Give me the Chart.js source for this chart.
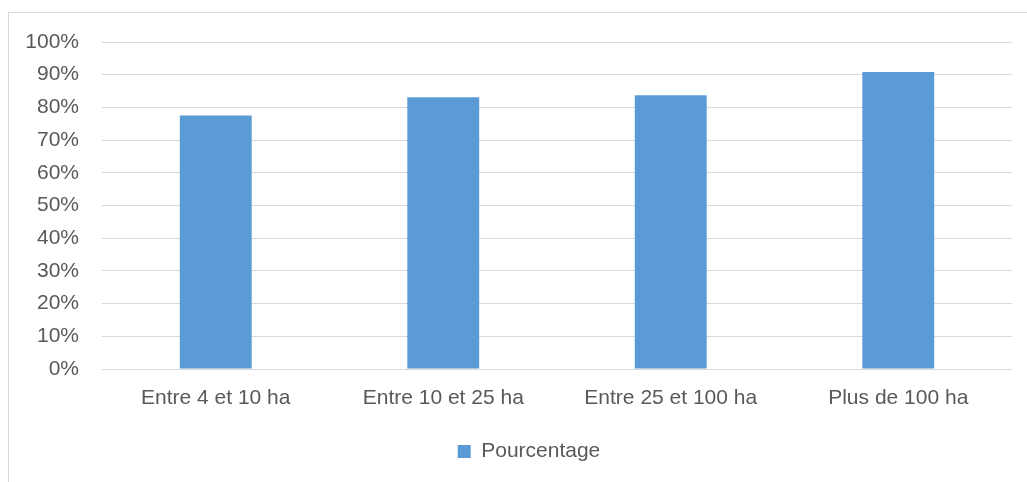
<!DOCTYPE html>
<html>
<head>
<meta charset="utf-8">
<script src="https://cdn.jsdelivr.net/npm/chart.js@4"></script>
<style>
  html, body { margin: 0; padding: 0; background: #fff; }
  #wrap { width: 1027px; height: 482px; position: relative; }
</style>
</head>
<body>
<div id="wrap"><canvas id="chart1"></canvas></div>
<script>
const categories = ["Entre 4 et 10 ha", "Entre 10 et 25 ha", "Entre 25 et 100 ha", "Plus de 100 ha"];
const pourcentage = [77.5, 83.1, 83.7, 90.8];

// outer frame of the chart, only the top and left edges are visible
const framePlugin = {
  id: "frame",
  beforeDraw(chart) {
    const ctx = chart.ctx;
    ctx.save();
    ctx.strokeStyle = "#d9d9d9";
    ctx.lineWidth = 1;
    ctx.strokeRect(8.5, 12.5, 1040, 500);
    ctx.restore();
  },
  // legend sits a bit right of the middle in the original
  afterLayout(chart) {
    chart.legend.left += 23;
    chart.legend.right += 23;
  },
};

const data1 = {
  labels: categories,
  datasets: [
    {
      label: "Pourcentage",
      data: pourcentage,
      backgroundColor: "#5B9BD5",
      barPercentage: 0.316,
      categoryPercentage: 1,
    },
  ],
};

const config1 = {
  type: "bar",
  data: data1,
  options: {
    responsive: false,
    animation: false,
    layout: { padding: { top: 42, right: 15, left: 0, bottom: 10 } },
    plugins: {
      legend: {
        position: "bottom",
        labels: {
          color: "#595959",
          font: { family: "Liberation Sans", size: 21 },
          boxWidth: 13,
          boxHeight: 13,
          padding: 10,
        },
      },
      tooltip: { enabled: false },
    },
    scales: {
      x: {
        grid: { display: false },
        border: { display: false },
        ticks: {
          color: "#595959",
          font: { family: "Liberation Sans", size: 21 },
          padding: 9,
          maxRotation: 0,
        },
        afterFit(scale) { scale.height = 62; },
      },
      y: {
        min: 0,
        max: 100,
        ticks: {
          stepSize: 10,
          color: "#595959",
          font: { family: "Liberation Sans", size: 21 },
          padding: 23,
          callback: (v) => v + "%",
        },
        grid: { color: "#d9d9d9", lineWidth: 1, drawTicks: false },
        border: { display: false },
        afterFit(scale) { scale.width = 102; },
      },
    },
  },
  plugins: [framePlugin],
};

const cv = document.getElementById("chart1");
cv.width = 1027;
cv.height = 482;
const myChart = new Chart(cv, config1);
</script>
</body>
</html>
